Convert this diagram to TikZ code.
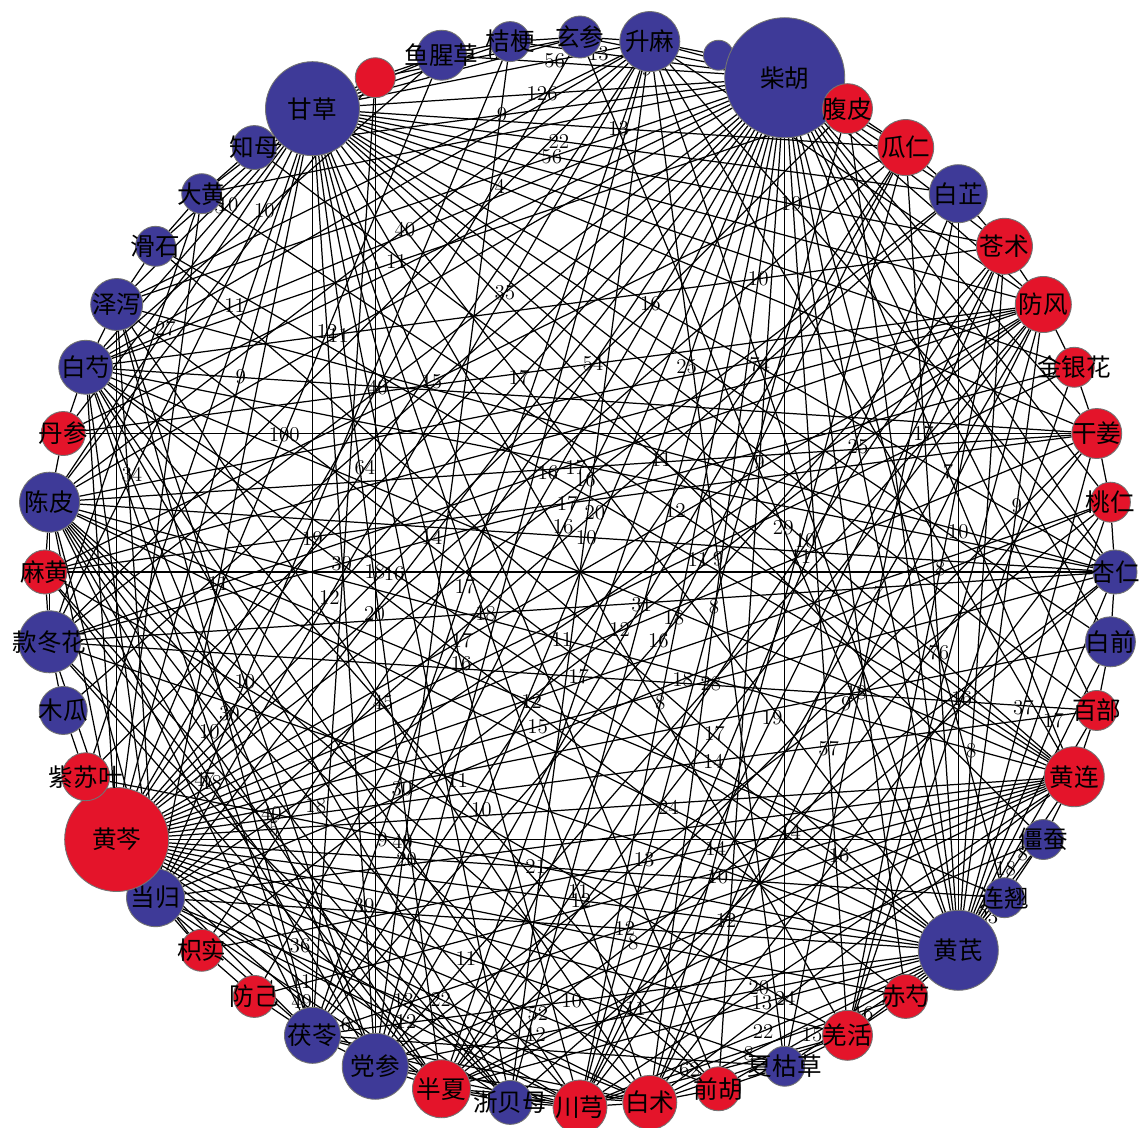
\documentclass[tikz,border=0pt]{standalone}
\usepackage{fontspec}
\newfontfamily\cjk{Noto Sans CJK SC}
\usepackage{xcolor}
\usepackage{tikz}
\usetikzlibrary{positioning}
\definecolor{herbblue}{RGB}{62,58,152}
\definecolor{herbred}{RGB}{228,20,42}
\pgfdeclarelayer{edges}
\pgfsetlayers{edges,main}

\begin{document}
\begin{tikzpicture}[
    herb/.style={circle, draw=black!55, line width=0.5pt, inner sep=0pt},
    herbname/.style={font=\cjk\fontsize{14}{14}\selectfont, inner sep=0pt},
    link/.style={line width=0.7pt, black},
    wt/.style={font=\fontsize{12}{12}\selectfont, inner sep=0.5pt}
  ]
  \useasboundingbox (-11.6,-11.1) rectangle (11.2,11.44);

  % Herbs on the ring
  \foreach \k/\s/\c/\t in {
      1/1.88/herbblue/甘草, 2/0.8/herbred/{}, 3/1.0/herbblue/鱼腥草, 4/0.8/herbblue/桔梗,
      5/0.84/herbblue/玄参, 6/1.2/herbblue/升麻, 7/0.6/herbblue/{}, 8/2.4/herbblue/柴胡,
      9/1.0/herbred/腹皮, 10/1.12/herbred/瓜仁, 11/1.16/herbblue/白芷, 12/1.12/herbred/苍术,
      13/1.12/herbred/防风, 14/0.8/herbred/金银花, 15/1.0/herbred/干姜, 16/0.8/herbred/桃仁,
      17/0.88/herbblue/杏仁, 18/1.0/herbblue/白前, 19/0.8/herbred/百部, 20/1.2/herbred/黄连,
      21/0.8/herbblue/僵蚕, 22/0.8/herbblue/连翘, 23/1.6/herbblue/黄芪, 24/0.88/herbred/赤芍,
      25/1.0/herbred/羌活, 26/0.8/herbblue/夏枯草, 27/0.88/herbred/前胡, 28/1.08/herbred/白术,
      29/1.08/herbred/川芎, 30/0.88/herbblue/浙贝母, 31/1.16/herbred/半夏, 32/1.32/herbblue/党参,
      33/1.12/herbblue/茯苓, 34/0.84/herbred/防己, 35/0.84/herbred/枳实, 36/1.16/herbblue/当归,
      37/2.08/herbred/黄芩, 38/0.96/herbred/紫苏叶, 39/0.96/herbblue/木瓜, 40/1.24/herbblue/款冬花,
      41/0.88/herbred/麻黄, 42/1.2/herbblue/陈皮, 43/0.88/herbred/丹参, 44/1.08/herbblue/白芍,
      45/1.04/herbblue/泽泻, 46/0.8/herbblue/滑石, 47/0.8/herbblue/大黄, 48/0.88/herbblue/知母}
    \node[herb, fill=\c, minimum size=\s cm, label={[herbname]center:\t}] (v\k) at ({127.5-7.5*\k}:10.7) {};

  \begin{pgfonlayer}{edges}
    % Weighted links
    \foreach \a/\b/\w/\p in {
        1/6/56/.75, 2/5/6/.6, 1/8/126/.5, 3/8/9/.7, 4/8/13/.35, 1/10/13/.5, 1/11/22/.35,
        1/12/19/.7, 1/15/4/.2, 8/37/12/.7, 8/36/14/.55, 8/40/35/.35, 8/44/11/.8, 8/23/25/.4,
        8/29/8/.6, 8/31/25/.25, 8/32/10/.75, 8/33/16/.45, 8/28/10/.15, 8/42/11/.6, 8/45/56/.3,
        8/20/7/.55, 8/25/57/.7, 8/27/9/.35, 1/37/9/.35, 1/36/11/.6, 1/33/19/.45, 1/32/12/.2,
        1/31/30/.7, 1/29/16/.55, 1/28/11/.8, 1/23/17/.3, 1/20/10/.65, 1/17/16/.4, 1/42/27/.55,
        1/44/10/.3, 1/45/55/.45, 1/40/34/.7, 37/23/12/.55, 37/21/9/.25, 37/20/5/.12, 37/17/15/.4,
        37/15/11/.7, 37/13/17/.35, 37/11/16/.55, 37/10/20/.3, 37/9/54/.65, 37/6/64/.45, 37/5/40/.55,
        37/3/100/.5, 37/28/22/.6, 37/29/36/.35, 37/31/11/.55, 37/32/49/.75, 37/33/14/.8,
        37/25/39/.3, 37/26/11/.5, 37/27/52/.7, 37/24/8/.65, 37/22/21/.45, 37/19/14/.6,
        37/18/18/.75, 23/44/16/.65, 23/42/24/.3, 23/40/11/.55, 23/38/40/.8, 23/36/12/.4,
        23/33/10/.6, 23/32/12/.75, 23/31/13/.35, 23/29/22/.5, 23/28/8/.7, 23/27/15/.6,
        23/26/16/.5, 23/22/23/.5, 23/20/8/.55, 23/19/18/.25, 23/17/17/.6, 23/15/37/.45,
        23/13/9/.7, 23/12/8/.25, 23/11/10/.55, 23/10/76/.35, 23/6/74/.65, 23/5/29/.45,
        32/13/28/.5, 32/10/31/.5, 32/16/13/.35, 32/20/12/.5, 32/42/18/.5, 32/44/30/.5,
        32/45/10/.5, 29/9/8/.5, 29/12/19/.45, 29/15/14/.4, 29/20/20/.35, 29/24/62/.3,
        29/36/12/.4, 29/42/18/.5, 29/44/40/.35, 28/13/9/.5, 28/16/16/.4, 28/20/24/.3,
        28/36/13/.5, 28/42/20/.4, 28/45/45/.5, 31/10/18/.5, 31/13/17/.45, 31/17/10/.4,
        31/21/11/.3, 31/36/6/.3, 31/41/47/.6, 42/15/17/.5, 42/17/10/.5, 42/20/11/.5,
        42/22/12/.5, 42/6/40/.6, 33/6/17/.45, 33/12/16/.5, 33/44/10/.45, 41/17/18/.3,
        40/17/18/.4, 40/19/17/.5, 40/14/17/.5, 44/3/10/.5, 44/9/11/.4, 44/24/30/.3,
        36/11/20/.55, 36/16/18/.55, 46/20/11/.6, 47/20/12/.55, 48/20/11/.5, 35/20/14/.6,
        13/35/12/.5, 13/40/16/.5, 6/45/9/.25, 6/26/9/.5, 14/25/16/.5, 15/43/17/.15,
        12/25/8/.4, 11/26/7/.45, 10/41/15/.55}
      \draw[link] (v\a) -- node[wt, pos=\p] {\w} (v\b);

    % Plain links
    \foreach \a/\b in {
        8/5, 8/6, 8/9, 8/10, 8/11, 8/12, 8/13, 8/15, 8/16, 8/17, 8/18, 8/19, 8/22, 8/24,
        8/26, 8/30, 8/34, 8/35, 8/38, 8/39, 8/43, 8/47, 8/48, 1/3, 1/4, 1/5, 1/13, 1/14,
        1/18, 1/19, 1/21, 1/25, 1/27, 1/30, 1/38, 1/43, 1/46, 1/47, 1/48, 1/2, 37/30, 37/35,
        37/40, 37/42, 37/44, 37/45, 37/47, 37/14, 37/16, 23/9, 23/16, 23/18, 23/21, 23/25,
        23/45, 23/46, 32/2, 32/4, 32/6, 32/28, 32/29, 29/11, 29/13, 29/25, 29/31, 29/33,
        28/10, 28/12, 28/25, 28/31, 28/33, 31/12, 31/15, 31/20, 31/40, 31/42, 42/2, 42/13,
        42/27, 42/30, 42/33, 42/36, 42/40, 33/2, 33/10, 33/20, 33/26, 33/36, 33/45, 36/4,
        36/6, 36/13, 36/20, 36/44, 36/45, 44/6, 44/12, 44/15, 44/17, 44/20, 44/27, 44/30,
        6/13, 6/17, 6/20, 6/30, 6/40, 13/25, 13/41, 13/43, 17/30, 17/45, 20/34, 41/15,
        41/25, 41/30, 40/30, 40/47, 2/3, 3/4, 4/5, 5/6, 6/7, 7/8, 9/10, 10/11, 11/12, 12/13,
        13/14, 14/15, 15/16, 16/17, 17/18, 18/19, 19/20, 20/21, 21/22, 23/24, 24/25, 25/26,
        26/27, 27/28, 28/29, 29/30, 30/31, 31/32, 32/33, 33/34, 34/35, 35/36, 36/37, 37/38,
        38/39, 39/40, 40/41, 41/42, 42/43, 43/44, 44/45, 45/46, 46/47, 47/48}
      \draw[link] (v\a) -- (v\b);
  \end{pgfonlayer}
\end{tikzpicture}
\end{document}
